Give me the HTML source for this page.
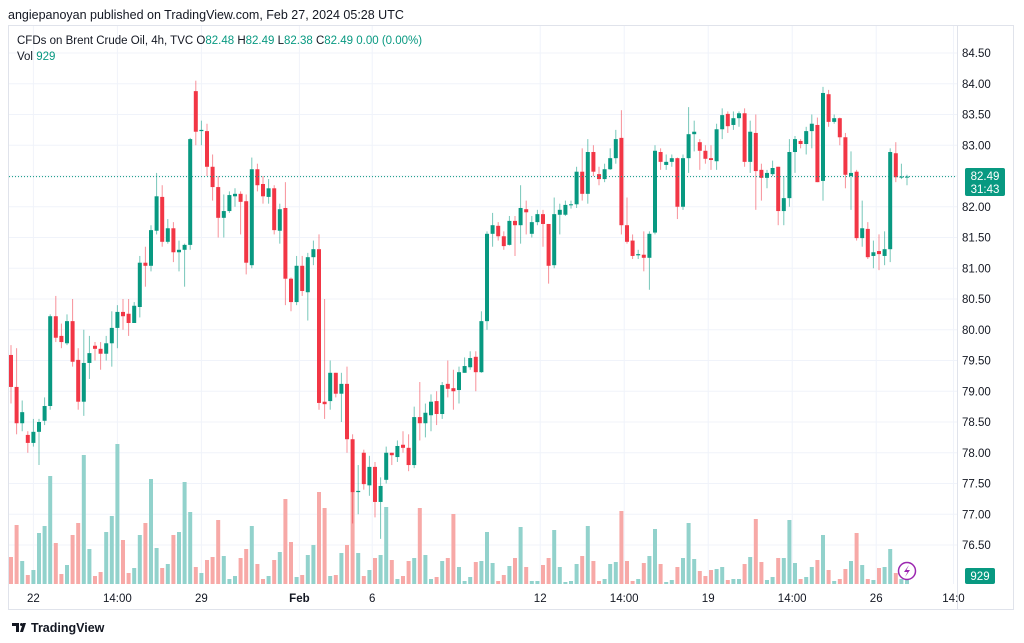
<!DOCTYPE html>
<html><head><meta charset="utf-8"><style>
body{margin:0;width:1024px;height:643px;background:#fff;overflow:hidden;font-family:"Liberation Sans",sans-serif}
svg{position:absolute;left:0;top:0}
</style></head><body>
<svg id="c" width="1024" height="643">
<text x="8" y="19" font-size="12.5" fill="#131722">angiepanoyan published on TradingView.com, Feb 27, 2024 05:28 UTC</text>
<rect x="8.5" y="25.5" width="1005" height="584" fill="none" stroke="#e0e3eb"/>
<g id="grid"></g>
<g id="vol"></g>
<g id="candles"></g>
<line x1="9" x2="957" y1="176.6" y2="176.6" stroke="#089981" stroke-dasharray="1,2"/>
<line x1="957.5" x2="957.5" y1="26" y2="609" stroke="#e0e3eb"/>
<g id="yaxis" font-size="11.5" fill="#131722"></g>
<g id="xaxis" font-size="11.5" fill="#131722"></g>
<text x="17" y="44" font-size="11.5" fill="#131722">CFDs on Brent Crude Oil, 4h, TVC <tspan>  O</tspan><tspan fill="#089981">82.48</tspan><tspan>  H</tspan><tspan fill="#089981">82.49</tspan><tspan>  L</tspan><tspan fill="#089981">82.38</tspan><tspan>  C</tspan><tspan fill="#089981">82.49  0.00 (0.00%)</tspan></text>
<text x="17" y="60" font-size="11.5" fill="#131722">Vol <tspan fill="#089981">929</tspan></text>
<g><rect x="965" y="168" width="40" height="28" rx="2" fill="#089981"/><text x="985" y="180" text-anchor="middle" font-size="11.5" fill="#fff">82.49</text><text x="985" y="193" text-anchor="middle" font-size="11.5" fill="#fff">31:43</text></g>
<g><rect x="965" y="568" width="30" height="16" rx="2" fill="#089981"/><text x="980" y="580" text-anchor="middle" font-size="11.5" fill="#fff">929</text></g>
<g><circle cx="907" cy="571" r="8.5" fill="#fff" stroke="#9c27b0" stroke-width="1.5"/><path d="M909 565 L904 572 L907.5 572 L905 577 L910 570 L906.5 570 Z" fill="#9c27b0"/></g>
<g><path d="M12 623 h7 v9 h-3 v-6 h-4 z M20 632 l3 -9 h3 l-3 9 z" fill="#131722"/><circle cx="21.5" cy="624.5" r="1.5" fill="#131722"/><text x="31" y="632" font-size="12.5" font-weight="bold" fill="#131722">TradingView</text></g>
</svg>
<script>
const opens=[79.59,79.07,78.48,78.29,78.16,78.34,78.52,78.76,80.22,79.90,79.78,80.14,79.51,78.83,79.46,79.74,79.69,79.61,79.78,80.03,80.29,80.26,80.11,80.37,81.09,81.04,81.61,82.16,81.43,81.65,81.26,81.30,81.38,83.88,83.23,83.23,82.65,82.32,81.82,81.93,82.17,82.21,82.09,81.05,82.61,82.37,82.16,82.30,81.61,81.98,80.83,80.45,81.04,80.61,81.18,81.31,78.83,78.84,79.30,78.96,79.12,78.22,77.36,78.00,77.47,77.77,77.20,77.56,78.00,77.93,78.13,78.08,77.80,78.58,78.48,78.61,78.84,78.63,79.12,79.05,79.02,79.30,79.39,79.56,79.31,80.14,81.56,81.69,81.52,81.38,81.77,81.70,81.96,81.56,81.75,81.88,81.72,81.05,81.87,81.87,82.03,82.04,82.57,82.21,82.89,82.53,82.45,82.61,82.79,83.12,81.70,81.45,81.21,81.22,81.17,81.58,82.89,82.68,82.73,82.79,82.00,82.79,83.18,83.05,82.91,82.79,82.74,83.26,83.51,83.33,83.44,83.52,82.73,83.20,82.60,82.47,82.53,82.65,81.93,82.14,82.89,83.07,83.02,83.23,83.33,82.42,83.83,83.38,83.44,83.13,82.50,82.57,81.49,81.64,81.20,81.28,81.20,81.31,82.87,82.48,82.48];
const closes=[79.07,78.48,78.66,78.16,78.34,78.50,78.76,80.22,79.87,79.80,80.14,79.48,78.83,79.46,79.62,79.69,79.61,79.78,80.03,80.29,80.22,80.11,80.39,81.09,81.04,81.62,82.17,81.43,81.65,81.26,81.30,81.38,83.10,83.22,83.25,82.65,82.32,81.82,81.93,82.19,82.21,82.08,81.09,82.61,82.35,82.17,82.30,81.62,81.96,80.83,80.45,81.04,80.63,81.18,81.31,78.81,78.79,79.30,78.96,79.12,78.22,77.36,77.38,77.49,77.77,77.20,77.46,78.00,77.96,78.11,78.08,77.80,78.58,78.48,78.65,78.83,78.63,79.10,79.04,79.00,79.31,79.41,79.54,79.31,80.14,81.56,81.70,81.52,81.36,81.77,81.70,81.98,81.91,81.75,81.88,81.72,81.04,81.88,81.95,82.03,82.04,82.57,82.21,82.89,82.57,82.45,82.61,82.79,83.10,81.70,81.43,81.20,81.23,81.17,81.56,82.91,82.73,82.73,82.79,82.00,82.79,83.18,83.22,82.91,82.78,82.76,83.26,83.49,83.31,83.44,83.52,82.73,83.22,82.58,82.47,82.55,82.63,81.93,82.14,82.89,83.10,83.02,83.23,83.35,82.40,83.85,83.38,83.44,83.13,82.52,82.55,81.49,81.65,81.18,81.26,81.23,81.31,82.89,82.48,82.49,82.49];
const highs=[79.75,79.7,78.85,78.35,78.55,78.55,78.9,80.25,80.55,80.1,80.25,80.5,79.7,80.0,79.9,79.8,79.8,79.9,80.3,80.4,80.5,80.5,80.45,81.2,81.35,81.7,82.55,82.35,81.8,81.75,81.45,81.4,83.12,84.05,83.4,83.35,82.85,82.5,82.2,82.25,82.3,82.25,82.2,82.8,82.7,82.5,82.45,82.35,82.05,82.4,80.85,81.2,81.2,81.25,81.45,81.55,80.5,79.5,79.3,79.3,79.4,78.3,77.8,78.05,77.95,77.85,77.6,78.1,78.0,78.2,78.35,78.3,78.75,79.15,78.8,78.95,79.0,79.15,79.5,79.35,79.4,79.55,79.65,79.65,80.3,81.6,81.9,81.75,81.6,81.85,81.85,82.35,82.1,81.85,81.95,81.95,81.72,82.15,82.05,82.1,82.1,82.65,82.95,83.1,83.0,82.65,82.7,82.95,83.25,83.57,82.15,81.55,81.3,81.6,81.6,83.0,82.95,82.85,82.85,82.8,82.85,83.62,83.4,83.1,83.0,83.0,83.35,83.6,83.55,83.55,83.55,83.6,83.4,83.5,82.7,82.6,82.75,82.65,82.5,83.1,83.15,83.1,83.3,83.5,83.45,83.95,83.9,83.5,83.45,83.2,82.9,82.6,82.1,81.75,81.45,81.55,81.6,82.95,83.05,82.7,82.52];
const lows=[78.8,78.3,78.35,78.0,78.1,77.8,78.45,78.7,79.8,79.7,79.75,79.4,78.7,78.6,79.2,79.5,79.35,79.5,79.4,79.7,80.0,79.9,80.3,80.2,80.7,80.95,81.55,81.35,81.4,81.1,80.95,80.7,81.3,83.0,83.0,82.5,82.1,81.5,81.5,81.9,82.0,81.55,80.9,81.0,82.25,82.05,82.05,81.55,81.4,80.4,80.3,80.4,80.55,80.15,81.05,78.7,78.55,78.7,78.9,78.5,78.0,76.85,77.0,77.4,77.3,76.95,76.6,77.5,77.8,77.85,78.0,77.7,77.75,78.2,78.25,78.35,78.45,78.55,78.9,78.7,78.8,79.3,79.35,79.0,79.3,80.0,81.35,81.45,81.3,81.37,81.2,81.4,81.55,81.5,81.7,81.35,80.75,81.0,81.55,81.85,81.97,81.98,82.1,82.05,82.5,82.35,82.4,82.6,82.7,81.55,81.4,81.15,81.15,80.95,80.65,81.55,82.6,82.6,82.65,81.8,81.95,82.55,82.9,82.6,82.7,82.6,82.6,83.1,83.2,83.25,83.3,82.65,82.55,81.95,82.1,82.3,82.5,81.7,81.7,82.0,82.55,82.95,82.85,82.95,82.4,82.1,83.3,83.35,83.0,82.3,81.95,81.45,81.35,81.15,81.0,80.97,81.05,81.1,82.4,82.45,82.35];
const volumes=[2700,5900,2300,900,1400,5100,5800,10800,4100,1000,1900,4900,6100,12900,3500,800,1200,5200,6800,14000,4400,1100,1600,4900,6100,10500,3600,1600,2000,4900,5200,10200,7200,1700,1100,2400,2700,6400,2800,500,800,2600,3500,5800,2000,500,800,2400,3200,8500,4200,700,900,2900,3900,9200,7600,800,900,3100,3900,9200,3100,800,1400,2600,2900,7700,2400,500,800,2300,2600,7600,2900,500,700,2300,2600,7000,1700,300,700,2200,2300,5200,2100,300,900,1800,2600,5700,1700,300,300,1900,2600,5400,1700,200,300,2000,2800,5800,2300,300,500,2000,2200,7300,2300,300,500,2100,2800,5500,2000,200,400,1700,2600,6100,2500,1300,800,1400,1500,1700,400,500,500,2000,2700,6500,2200,400,700,2600,2600,6400,2100,500,700,1700,2400,4900,1400,300,500,1500,2300,5100,1900,500,400,1600,1700,3500,1100,500,929];
const priceTicks=[84.5,84,83.5,83,82.5,82,81.5,81,80.5,80,79.5,79,78.5,78,77.5,77,76.5];
const timeLabels=["22","14:00","29","Feb","6","12","14:00","19","14:00","26","14:0"];
const timeIdx=[4,19,34,51.5,64.5,94.5,109.5,124.5,139.5,154.5,168.3];
const NS="http://www.w3.org/2000/svg";
const yP=p=>53+(84.5-p)*61.5;
const xI=i=>11+5.6*i;
const VMAX=14300, VBASE=584, VH=143;
const yV=v=>VBASE-v/VMAX*VH;
function mk(t,a,par){const e=document.createElementNS(NS,t);for(const k in a)e.setAttribute(k,a[k]);par.appendChild(e);return e;}
const grid=document.getElementById('grid'),ya=document.getElementById('yaxis'),xa=document.getElementById('xaxis');
priceTicks.forEach(p=>{
 const l=mk('line',{x1:9,x2:957,y1:yP(p),y2:yP(p),stroke:'#f0f3fa'},grid);
 
 
 if(Math.abs(yP(p)-176.6)<12&&p!==82)return;
 const t=mk('text',{x:962,y:yP(p)+4},ya);t.textContent=p.toFixed(2);
 
 
});
timeLabels.forEach((s,k)=>{
 const x=xI(timeIdx[k]);
 const l=mk('line',{x1:x,x2:x,y1:26,y2:584,stroke:'#f0f3fa'},grid);
 
 
 const t=mk('text',{x:x,y:602,'text-anchor':'middle'},xa);t.textContent=s;
 if(s==='Feb')t.setAttribute('font-weight','bold');
 
 
});
const vg=document.getElementById('vol'),cg=document.getElementById('candles');
opens.forEach((o,i)=>{
 const c=closes[i],up=c>=o,x=xI(i);
 const vb=mk('rect',{x:x-2,y:yV(volumes[i]),width:4,height:VBASE-yV(volumes[i]),fill:up?'#92d2cc':'#f7a9a7'},vg);
 
 
 const col=up?'#089981':'#f23645';
 const w=mk('line',{x1:x,x2:x,y1:yP(highs[i]),y2:yP(lows[i]),stroke:col,'stroke-opacity':0.55},cg);
 
 
 const top=yP(Math.max(o,c)),h=Math.max(1,Math.abs(yP(o)-yP(c)));
 const b=mk('rect',{x:x-2,y:top,width:4,height:h,fill:col},cg);
 
 
});
</script>
</body></html>
